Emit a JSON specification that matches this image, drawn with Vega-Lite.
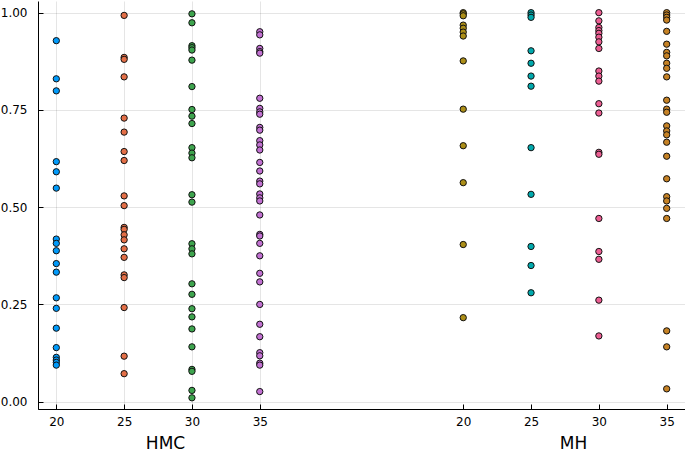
{
  "$schema": "https://vega.github.io/schema/vega-lite/v6.json",
  "autosize": {"type": "none"},
  "padding": {"left": 38, "top": 1, "right": 0, "bottom": 42},
  "width": 647,
  "height": 408,
  "background": "white",
  "config": {
    "view": {"stroke": null},
    "font": "DejaVu Sans",
    "axis": {
      "domainColor": "#000000",
      "domainWidth": 1,
      "tickColor": "#000000",
      "tickSize": -5,
      "labelFont": "DejaVu Sans",
      "labelFontSize": 12,
      "labelColor": "#000000",
      "gridColor": "#000000",
      "gridOpacity": 0.1,
      "gridWidth": 1,
      "titleFont": "DejaVu Sans",
      "titleFontSize": 17,
      "titleFontWeight": "normal",
      "titleColor": "#000000"
    }
  },
  "data": {
    "values": [
      {"m":"HMC","n":20,"v":0.928},{"m":"HMC","n":20,"v":0.830},{"m":"HMC","n":20,"v":0.799},{"m":"HMC","n":20,"v":0.617},{"m":"HMC","n":20,"v":0.591},{"m":"HMC","n":20,"v":0.549},{"m":"HMC","n":20,"v":0.418},{"m":"HMC","n":20,"v":0.407},{"m":"HMC","n":20,"v":0.388},{"m":"HMC","n":20,"v":0.355},{"m":"HMC","n":20,"v":0.333},{"m":"HMC","n":20,"v":0.267},{"m":"HMC","n":20,"v":0.240},{"m":"HMC","n":20,"v":0.189},{"m":"HMC","n":20,"v":0.139},{"m":"HMC","n":20,"v":0.114},{"m":"HMC","n":20,"v":0.107},{"m":"HMC","n":20,"v":0.101},{"m":"HMC","n":20,"v":0.094},
      {"m":"HMC","n":25,"v":0.993},{"m":"HMC","n":25,"v":0.885},{"m":"HMC","n":25,"v":0.880},{"m":"HMC","n":25,"v":0.835},{"m":"HMC","n":25,"v":0.729},{"m":"HMC","n":25,"v":0.693},{"m":"HMC","n":25,"v":0.643},{"m":"HMC","n":25,"v":0.620},{"m":"HMC","n":25,"v":0.529},{"m":"HMC","n":25,"v":0.504},{"m":"HMC","n":25,"v":0.448},{"m":"HMC","n":25,"v":0.443},{"m":"HMC","n":25,"v":0.429},{"m":"HMC","n":25,"v":0.416},{"m":"HMC","n":25,"v":0.393},{"m":"HMC","n":25,"v":0.371},{"m":"HMC","n":25,"v":0.326},{"m":"HMC","n":25,"v":0.319},{"m":"HMC","n":25,"v":0.242},{"m":"HMC","n":25,"v":0.117},{"m":"HMC","n":25,"v":0.072},
      {"m":"HMC","n":30,"v":0.997},{"m":"HMC","n":30,"v":0.974},{"m":"HMC","n":30,"v":0.915},{"m":"HMC","n":30,"v":0.910},{"m":"HMC","n":30,"v":0.904},{"m":"HMC","n":30,"v":0.878},{"m":"HMC","n":30,"v":0.810},{"m":"HMC","n":30,"v":0.751},{"m":"HMC","n":30,"v":0.734},{"m":"HMC","n":30,"v":0.715},{"m":"HMC","n":30,"v":0.653},{"m":"HMC","n":30,"v":0.639},{"m":"HMC","n":30,"v":0.627},{"m":"HMC","n":30,"v":0.532},{"m":"HMC","n":30,"v":0.513},{"m":"HMC","n":30,"v":0.406},{"m":"HMC","n":30,"v":0.393},{"m":"HMC","n":30,"v":0.380},{"m":"HMC","n":30,"v":0.303},{"m":"HMC","n":30,"v":0.276},{"m":"HMC","n":30,"v":0.239},{"m":"HMC","n":30,"v":0.218},{"m":"HMC","n":30,"v":0.187},{"m":"HMC","n":30,"v":0.141},{"m":"HMC","n":30,"v":0.083},{"m":"HMC","n":30,"v":0.078},{"m":"HMC","n":30,"v":0.029},{"m":"HMC","n":30,"v":0.010},
      {"m":"HMC","n":35,"v":0.951},{"m":"HMC","n":35,"v":0.943},{"m":"HMC","n":35,"v":0.908},{"m":"HMC","n":35,"v":0.900},{"m":"HMC","n":35,"v":0.896},{"m":"HMC","n":35,"v":0.780},{"m":"HMC","n":35,"v":0.754},{"m":"HMC","n":35,"v":0.745},{"m":"HMC","n":35,"v":0.739},{"m":"HMC","n":35,"v":0.705},{"m":"HMC","n":35,"v":0.698},{"m":"HMC","n":35,"v":0.671},{"m":"HMC","n":35,"v":0.660},{"m":"HMC","n":35,"v":0.647},{"m":"HMC","n":35,"v":0.615},{"m":"HMC","n":35,"v":0.593},{"m":"HMC","n":35,"v":0.567},{"m":"HMC","n":35,"v":0.560},{"m":"HMC","n":35,"v":0.534},{"m":"HMC","n":35,"v":0.524},{"m":"HMC","n":35,"v":0.516},{"m":"HMC","n":35,"v":0.480},{"m":"HMC","n":35,"v":0.430},{"m":"HMC","n":35,"v":0.426},{"m":"HMC","n":35,"v":0.407},{"m":"HMC","n":35,"v":0.375},{"m":"HMC","n":35,"v":0.330},{"m":"HMC","n":35,"v":0.308},{"m":"HMC","n":35,"v":0.250},{"m":"HMC","n":35,"v":0.199},{"m":"HMC","n":35,"v":0.167},{"m":"HMC","n":35,"v":0.126},{"m":"HMC","n":35,"v":0.118},{"m":"HMC","n":35,"v":0.099},{"m":"HMC","n":35,"v":0.094},{"m":"HMC","n":35,"v":0.026},
      {"m":"MH","n":20,"v":1.000},{"m":"MH","n":20,"v":0.997},{"m":"MH","n":20,"v":0.992},{"m":"MH","n":20,"v":0.968},{"m":"MH","n":20,"v":0.960},{"m":"MH","n":20,"v":0.950},{"m":"MH","n":20,"v":0.940},{"m":"MH","n":20,"v":0.876},{"m":"MH","n":20,"v":0.752},{"m":"MH","n":20,"v":0.658},{"m":"MH","n":20,"v":0.563},{"m":"MH","n":20,"v":0.404},{"m":"MH","n":20,"v":0.216},
      {"m":"MH","n":25,"v":1.000},{"m":"MH","n":25,"v":0.994},{"m":"MH","n":25,"v":0.988},{"m":"MH","n":25,"v":0.902},{"m":"MH","n":25,"v":0.870},{"m":"MH","n":25,"v":0.837},{"m":"MH","n":25,"v":0.811},{"m":"MH","n":25,"v":0.653},{"m":"MH","n":25,"v":0.533},{"m":"MH","n":25,"v":0.399},{"m":"MH","n":25,"v":0.350},{"m":"MH","n":25,"v":0.280},
      {"m":"MH","n":30,"v":1.000},{"m":"MH","n":30,"v":0.979},{"m":"MH","n":30,"v":0.962},{"m":"MH","n":30,"v":0.954},{"m":"MH","n":30,"v":0.947},{"m":"MH","n":30,"v":0.937},{"m":"MH","n":30,"v":0.925},{"m":"MH","n":30,"v":0.908},{"m":"MH","n":30,"v":0.850},{"m":"MH","n":30,"v":0.837},{"m":"MH","n":30,"v":0.824},{"m":"MH","n":30,"v":0.766},{"m":"MH","n":30,"v":0.742},{"m":"MH","n":30,"v":0.641},{"m":"MH","n":30,"v":0.636},{"m":"MH","n":30,"v":0.471},{"m":"MH","n":30,"v":0.386},{"m":"MH","n":30,"v":0.366},{"m":"MH","n":30,"v":0.261},{"m":"MH","n":30,"v":0.169},
      {"m":"MH","n":35,"v":1.000},{"m":"MH","n":35,"v":0.994},{"m":"MH","n":35,"v":0.988},{"m":"MH","n":35,"v":0.981},{"m":"MH","n":35,"v":0.952},{"m":"MH","n":35,"v":0.919},{"m":"MH","n":35,"v":0.898},{"m":"MH","n":35,"v":0.889},{"m":"MH","n":35,"v":0.870},{"m":"MH","n":35,"v":0.857},{"m":"MH","n":35,"v":0.835},{"m":"MH","n":35,"v":0.775},{"m":"MH","n":35,"v":0.752},{"m":"MH","n":35,"v":0.744},{"m":"MH","n":35,"v":0.709},{"m":"MH","n":35,"v":0.696},{"m":"MH","n":35,"v":0.686},{"m":"MH","n":35,"v":0.667},{"m":"MH","n":35,"v":0.631},{"m":"MH","n":35,"v":0.573},{"m":"MH","n":35,"v":0.527},{"m":"MH","n":35,"v":0.516},{"m":"MH","n":35,"v":0.497},{"m":"MH","n":35,"v":0.471},{"m":"MH","n":35,"v":0.182},{"m":"MH","n":35,"v":0.141},{"m":"MH","n":35,"v":0.033}
    ]
  },
  "layer": [
    {
      "transform": [{"filter": "datum.m === 'HMC'"}],
      "mark": {"type": "point", "shape": "circle", "filled": true, "size": 40, "stroke": "#111111", "strokeWidth": 1, "opacity": 1},
      "encoding": {
        "x": {"field": "n", "type": "quantitative",
              "scale": {"domain": [18.65, 66.35], "nice": false, "zero": false},
              "axis": {"orient": "bottom", "values": [20, 25, 30, 35], "title": "HMC", "titleX": 127, "titleY": 39, "titleBaseline": "alphabetic", "titleAlign": "center", "labelPadding": 12}},
        "y": {"field": "v", "type": "quantitative",
              "scale": {"domain": [-0.0188, 1.03], "nice": false, "zero": false},
              "axis": {"values": [0, 0.25, 0.5, 0.75, 1], "format": ".2f", "title": null, "labelPadding": 16}},
        "color": {"field": "n", "type": "ordinal", "legend": null,
                  "scale": {"domain": [20, 25, 30, 35], "range": ["#009AFA", "#E36F47", "#3EA44E", "#C271D2"]}}
      }
    },
    {
      "transform": [{"filter": "datum.m === 'MH'"}],
      "mark": {"type": "point", "shape": "circle", "filled": true, "size": 40, "stroke": "#111111", "strokeWidth": 1, "opacity": 1},
      "encoding": {
        "x": {"field": "n", "type": "quantitative",
              "scale": {"domain": [-11.35, 36.35], "nice": false, "zero": false},
              "axis": {"orient": "bottom", "values": [20, 25, 30, 35], "title": "MH", "titleX": 535, "titleY": 39, "titleBaseline": "alphabetic", "titleAlign": "center", "labelPadding": 12}},
        "y": {"field": "v", "type": "quantitative",
              "scale": {"domain": [-0.0188, 1.03], "nice": false, "zero": false},
              "axis": {"values": [0, 0.25, 0.5, 0.75, 1], "format": ".2f", "title": null, "labelPadding": 16}},
        "color": {"field": "n", "type": "ordinal", "legend": null,
                  "scale": {"domain": [20, 25, 30, 35], "range": ["#AC8E18", "#00A9AD", "#ED5E93", "#C68225"]}}
      }
    }
  ],
  "resolve": {"scale": {"x": "independent", "color": "independent"}, "axis": {"x": "independent"}}
}
